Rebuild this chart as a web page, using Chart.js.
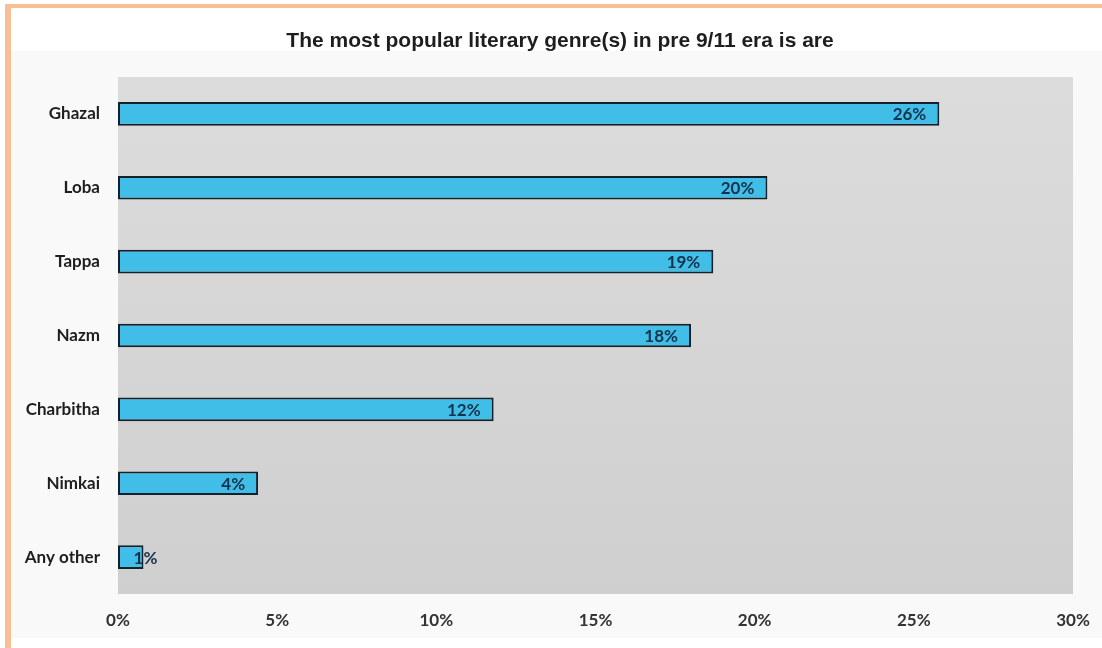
<!DOCTYPE html>
<html>
<head>
<meta charset="utf-8">
<script src="https://cdn.jsdelivr.net/npm/chart.js@4.4.1/dist/chart.umd.min.js"></script>
<style>
  html, body { margin: 0; padding: 0; background: #fff; }
  #frame {
    position: absolute; left: 5px; top: 4px; width: 1097px; height: 644px;
    border-top: 4px solid #f8bf96; border-left: 6px solid #f8bf96;
    box-sizing: border-box;
  }
  #panel {
    position: absolute; left: 11px; top: 51px; width: 1091px; height: 587px;
    background: #f9f9f9;
  }
  #wrap { position: absolute; left: 0; top: 0; width: 1102px; height: 648px; }
</style>
</head>
<body>
<div id="frame"></div>
<div id="panel"></div>
<div id="wrap"><canvas id="chart" width="1102" height="648"></canvas></div>
<script>
const genres = ['Ghazal', 'Loba', 'Tappa', 'Nazm', 'Charbitha', 'Nimkai', 'Any other'];
const shares = [25.8, 20.4, 18.7, 18.0, 11.8, 4.4, 0.8];
const xTicks = [0, 5, 10, 15, 20, 25, 30];
const titleText = 'The most popular literary genre(s) in pre 9/11 era is are';

// grey gradient behind the bars, plus the heading
const plotBackground = {
  id: 'plotBackground',
  beforeDraw(chart) {
    const { ctx, chartArea: a } = chart;
    const g = ctx.createLinearGradient(0, a.top, 0, a.bottom);
    g.addColorStop(0, '#dcdcdc');
    g.addColorStop(1, '#cfcfcf');
    ctx.save();
    ctx.fillStyle = g;
    ctx.fillRect(a.left, a.top, a.right - a.left, a.bottom - a.top);
    ctx.font = 'bold 21px "Liberation Sans", Arial, sans-serif';
    ctx.fillStyle = '#1e1e1e';
    ctx.textAlign = 'center';
    ctx.textBaseline = 'alphabetic';
    ctx.fillText(titleText, 560, 47);
    ctx.restore();
  }
};

// percentage written at the inner end of each bar
const barLabels = {
  id: 'barLabels',
  afterDatasetsDraw(chart) {
    const { ctx } = chart;
    const meta = chart.getDatasetMeta(0);
    ctx.save();
    ctx.font = 'bold 17px Lato, "DejaVu Sans", sans-serif';
    ctx.fillStyle = '#15324c';
    ctx.textBaseline = 'middle';
    meta.data.forEach((bar, i) => {
      const text = Math.round(shares[i]) + '%';
      const w = ctx.measureText(text).width;
      const len = bar.x - bar.base;
      if (w + 26 > len) {
        ctx.textAlign = 'center';
        ctx.fillText(text, bar.x + 2, bar.y + 1);
      } else {
        ctx.textAlign = 'right';
        ctx.fillText(text, bar.x - 13, bar.y + 1);
      }
    });
    ctx.restore();
  }
};

new Chart(document.getElementById('chart'), {
  type: 'bar',
  data: {
    labels: genres,
    datasets: [{
      data: shares,
      backgroundColor: '#40bee8',
      borderColor: '#15202b',
      borderWidth: 2,
      borderSkipped: false,
      barPercentage: 0.32,
      categoryPercentage: 1
    }]
  },
  options: {
    indexAxis: 'y',
    responsive: false,
    animation: false,
    layout: { padding: { left: 0, right: 29, top: 77, bottom: 0 } },
    plugins: {
      legend: { display: false },
      tooltip: { enabled: false },
      title: { display: false }
    },
    scales: {
      x: {
        min: 0,
        max: 30,
        afterBuildTicks(scale) { scale.ticks = xTicks.map(v => ({ value: v })); },
        afterFit(scale) {
          scale.height = 54;
          scale.paddingLeft = 0;
          scale.paddingRight = 0;
        },
        grid: { display: false, drawTicks: false },
        border: { display: false },
        ticks: {
          padding: 16,
          color: '#333',
          font: { family: 'Lato, "DejaVu Sans", sans-serif', size: 17, weight: 'bold' },
          callback: v => v + '%'
        }
      },
      y: {
        afterFit(scale) { scale.width = 118; },
        grid: { display: false, drawTicks: false },
        border: { display: false },
        ticks: {
          padding: 18,
          color: '#1e1e1e',
          font: { family: 'Lato, "DejaVu Sans", sans-serif', size: 17, weight: 'bold' }
        }
      }
    }
  },
  plugins: [plotBackground, barLabels]
});
</script>
</body>
</html>
